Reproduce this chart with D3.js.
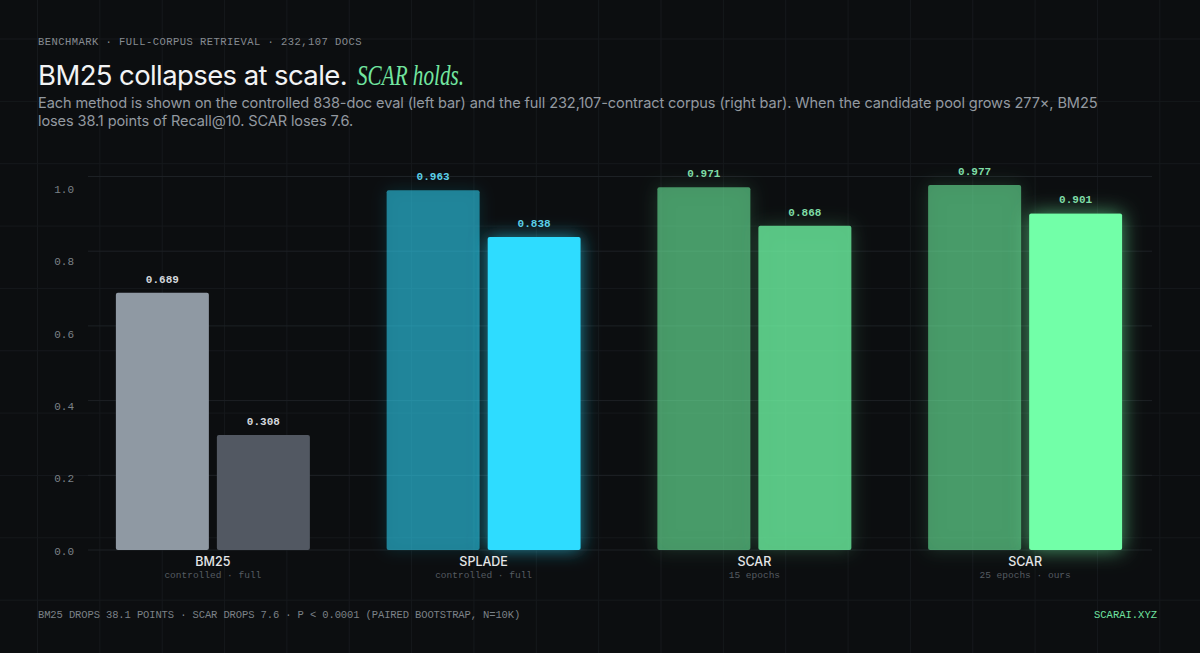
<!DOCTYPE html>
<html>
<head>
    <title>BM25 collapses at scale</title>
    <script src="https://d3js.org/d3.v7.min.js"></script>
    <style>
        html, body { margin: 0; padding: 0; background: #0c0e10; }
        svg { display: block; }
    </style>
</head>
<body>
    <svg width="1200" height="653" id="mainSvg"></svg>
    <script>
        // data
        const categories = ["bm25", "splade", "scar15", "scar25"];
        const methodNames = ["BM25", "SPLADE", "SCAR", "SCAR"];
        const methodNotes = ["controlled · full", "controlled · full", "15 epochs", "25 epochs · ours"];
        const controlledValues = [0.689, 0.963, 0.971, 0.977];
        const fullValues = [0.308, 0.838, 0.868, 0.901];
        const yTicks = [0, 0.2, 0.4, 0.6, 0.8, 1.0];
        const seriesKeys = ["controlled", "full"];

        // per-method styling
        const styles = {
            bm25:   { color: ["#8f99a3", "#525862"], opacity: [1, 1], label: "#d3d7dc", glow: [null, null] },
            splade: { color: ["#2edcff", "#2edcff"], opacity: [0.55, 1], label: "#5ccfe8", glow: ["glowCyanSoft", "glowCyan"] },
            scar15: { color: ["#72ffa8", "#72ffa8"], opacity: [0.55, 0.75], label: "#7fdca6", glow: ["glowGreenSoft", "glowGreenSoft"] },
            scar25: { color: ["#72ffa8", "#72ffa8"], opacity: [0.55, 1], label: "#7fdca6", glow: ["glowGreenSoft", "glowGreen"] }
        };

        const svg = d3.select("#mainSvg");
        const W = +svg.attr("width"), H = +svg.attr("height");

        const defs = svg.append("defs");
        const makeGlow = function (id, color, std, op) {
            const f = defs.append("filter").attr("id", id)
                .attr("x", "-40%").attr("y", "-40%").attr("width", "180%").attr("height", "180%");
            f.append("feGaussianBlur").attr("in", "SourceAlpha").attr("stdDeviation", std).attr("result", "b");
            f.append("feFlood").attr("flood-color", color).attr("flood-opacity", op);
            f.append("feComposite").attr("in2", "b").attr("operator", "in").attr("result", "g");
            // keep the glow outside the bar so translucent bars are not brightened
            f.append("feComposite").attr("in", "g").attr("in2", "SourceAlpha").attr("operator", "out").attr("result", "o");
            const m = f.append("feMerge");
            m.append("feMergeNode").attr("in", "o");
            m.append("feMergeNode").attr("in", "SourceGraphic");
        };
        makeGlow("glowCyan", "#2edcff", 9, 0.6);
        makeGlow("glowCyanSoft", "#2edcff", 8, 0.25);
        makeGlow("glowGreen", "#72ffa8", 10, 0.6);
        makeGlow("glowGreenSoft", "#72ffa8", 9, 0.3);

        svg.append("rect").attr("width", W).attr("height", H).attr("fill", "#0c0e10");

        // background grid
        const cell = 62.35;
        const bg = svg.append("g").attr("stroke", "#16191c").attr("stroke-width", 1);
        bg.selectAll("line.v").data(d3.range(37.5, W, cell)).join("line")
            .attr("class", "v").attr("x1", d => d).attr("x2", d => d).attr("y1", 0).attr("y2", H);
        bg.selectAll("line.h").data(d3.range(39 - cell, H, cell)).join("line")
            .attr("class", "h").attr("x1", 0).attr("x2", W).attr("y1", d => d).attr("y2", d => d);

        // scales
        const x0 = d3.scaleBand().domain(categories).range([77.5, 1160.5]);
        const mid = x0.bandwidth() / 2;
        const x1 = d3.scaleBand().domain(seriesKeys).range([mid - 97, mid + 97]).paddingInner(0.0792);
        const y = d3.scaleLinear().domain([0, 1]).range([550, 176.5]);
        const yLabel = d3.scaleLinear().domain([0, 1]).range([551, 189]);

        // chart gridlines
        svg.append("g").selectAll("line").data(yTicks).join("line")
            .attr("x1", 88).attr("x2", 1152)
            .attr("y1", d => y(d)).attr("y2", d => y(d))
            .attr("stroke", "#1d2125").attr("stroke-width", 1);

        svg.append("g").selectAll("text").data(yTicks).join("text")
            .attr("x", 74).attr("y", d => yLabel(d)).attr("dy", "0.35em")
            .attr("text-anchor", "end")
            .attr("font-family", "'Liberation Mono', monospace").attr("font-size", 11)
            .attr("fill", "#7b8187")
            .text(d => d3.format(".1f")(d));

        // bars
        const rows = categories.map((c, i) => ({
            key: c, name: methodNames[i], note: methodNotes[i],
            vals: [controlledValues[i], fullValues[i]]
        }));

        const groups = svg.append("g").selectAll("g").data(rows).join("g")
            .attr("transform", d => `translate(${x0(d.key)},0)`);

        groups.each(function (r) {
            const gg = d3.select(this);
            const st = styles[r.key];
            const items = seriesKeys.map((s, j) => ({ s, j, v: r.vals[j] }));
            gg.selectAll("rect").data(items).join("rect")
                .attr("x", d => x1(d.s)).attr("width", x1.bandwidth())
                .attr("y", d => y(d.v)).attr("height", d => y(0) - y(d.v))
                .attr("rx", 2)
                .attr("fill", d => st.color[d.j]).attr("fill-opacity", d => st.opacity[d.j])
                .attr("filter", d => st.glow[d.j] ? `url(#${st.glow[d.j]})` : null);
            gg.selectAll("text.val").data(items).join("text")
                .attr("class", "val")
                .attr("x", d => x1(d.s) + x1.bandwidth() / 2).attr("y", d => y(d.v) - 10)
                .attr("text-anchor", "middle")
                .attr("font-family", "'Liberation Mono', monospace").attr("font-size", 11)
                .attr("font-weight", 700)
                .attr("fill", st.label)
                .text(d => d3.format(".3f")(d.v));
            gg.append("text")
                .attr("x", mid).attr("y", 566).attr("text-anchor", "middle")
                .attr("font-family", "Inter, sans-serif").attr("font-size", 12.5).attr("font-weight", 500)
                .attr("fill", "#e4e6e8").text(r.name);
            gg.append("text")
                .attr("x", mid).attr("y", 578).attr("text-anchor", "middle")
                .attr("font-family", "'Liberation Mono', monospace").attr("font-size", 9.5)
                .attr("fill", "#565c62").text(r.note);
        });

        // header
        svg.append("text").attr("x", 38).attr("y", 45)
            .attr("font-family", "'Liberation Mono', monospace").attr("font-size", 10.5)
            .attr("letter-spacing", 0.45).attr("fill", "#868b91")
            .text("BENCHMARK · FULL-CORPUS RETRIEVAL · 232,107 DOCS");

        svg.append("text").attr("x", 38).attr("y", 85)
            .attr("font-family", "Inter, sans-serif").attr("font-size", 27.5).attr("font-weight", 400)
            .attr("fill", "#f2f3f4").attr("letter-spacing", -0.6)
            .text("BM25 collapses at scale.");
        svg.append("text").attr("x", 357).attr("y", 85)
            .attr("font-family", "'Liberation Serif', serif").attr("font-style", "italic").attr("font-size", 30)
            .attr("fill", "#72e6a0")
            .attr("textLength", 107).attr("lengthAdjust", "spacingAndGlyphs")
            .text("SCAR holds.");

        const sub = svg.append("g").attr("font-family", "Inter, sans-serif").attr("font-size", 13)
            .attr("fill", "#9399a0").attr("letter-spacing", -0.1);
        const line1 = sub.append("text").attr("x", 38).attr("y", 108)
            .text("Each method is shown on the controlled 838-doc eval (left bar) and the full 232,107-contract corpus (right bar). When the candidate pool grows 277×, BM25");
        const line2 = sub.append("text").attr("x", 38).attr("y", 126)
            .text("loses 38.1 points of Recall@10. SCAR loses 7.6.");
        // size the paragraph so the first line spans the same width as the reference
        const fs = 13 * 1058 / line1.node().getComputedTextLength();
        sub.attr("font-size", fs);

        // footer
        svg.append("text").attr("x", 38).attr("y", 618)
            .attr("font-family", "'Liberation Mono', monospace").attr("font-size", 10.5)
            .attr("letter-spacing", -0.12).attr("fill", "#7b8187")
            .text("BM25 DROPS 38.1 POINTS · SCAR DROPS 7.6 · P < 0.0001 (PAIRED BOOTSTRAP, N=10K)");
        svg.append("text").attr("x", 1157).attr("y", 618).attr("text-anchor", "end")
            .attr("font-family", "'Liberation Mono', monospace").attr("font-size", 10.5)
            .attr("fill", "#6fe3a0")
            .text("SCARAI.XYZ");
    </script>
</body>
</html>
